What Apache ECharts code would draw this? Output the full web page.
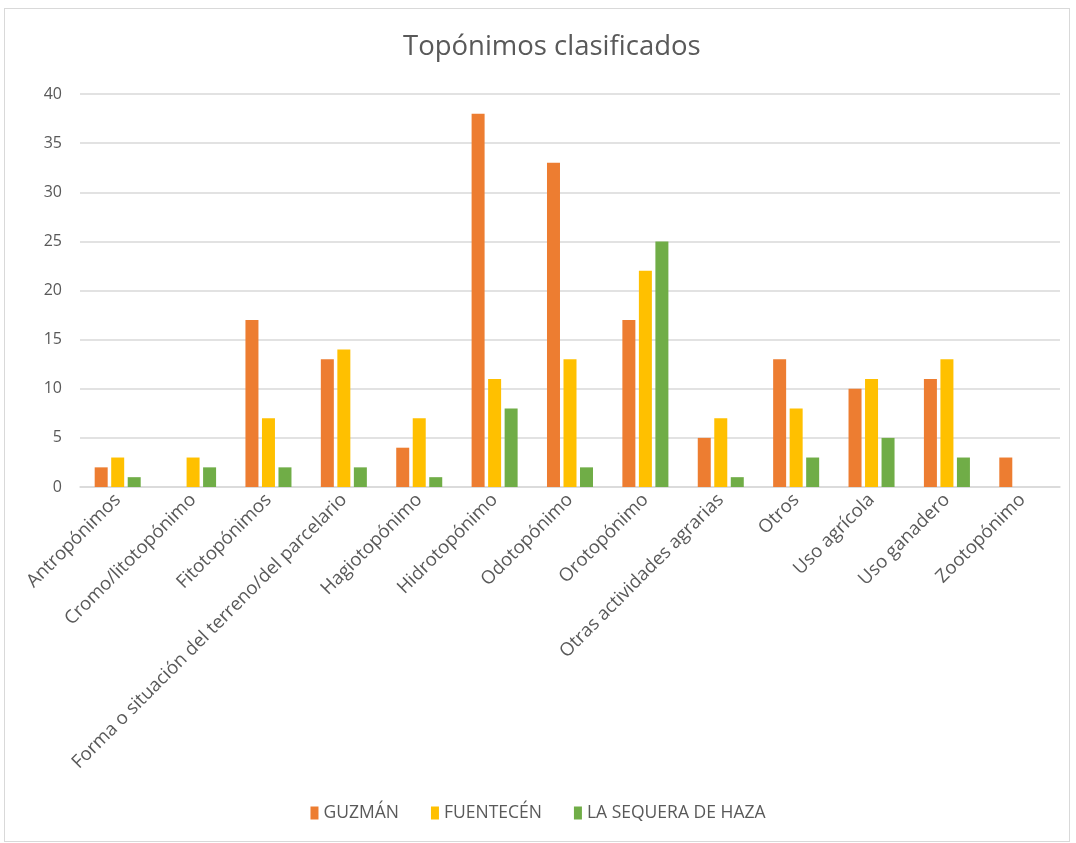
<!DOCTYPE html>
<html lang="es">
<head>
    <meta charset="UTF-8">
    <title>Topónimos clasificados</title>
    <script src="https://cdn.jsdelivr.net/npm/echarts@6.0.0/dist/echarts.min.js"></script>
    <style>
        html, body { margin: 0; padding: 0; background: #fff; }
        #frame { position: absolute; left: 4px; top: 8px; width: 1066px; height: 834px; border: 1px solid #d9d9d9; box-sizing: border-box; }
        #chart { position: absolute; left: 0; top: 0; width: 1076px; height: 843px; }
    </style>
</head>
<body>
<div id="frame"></div>
<div id="chart"></div>
<script>
    const categories = ['Antropónimos', 'Cromo/litotopónimo', 'Fitotopónimos',
        'Forma o situación del terreno/del parcelario', 'Hagiotopónimo', 'Hidrotopónimo',
        'Odotopónimo', 'Orotopónimo', 'Otras actividades agrarias', 'Otros',
        'Uso agrícola', 'Uso ganadero', 'Zootopónimo'];
    const guzman = [2, 0, 17, 13, 4, 38, 33, 17, 5, 13, 10, 11, 3];
    const fuentecen = [3, 3, 7, 14, 7, 11, 13, 22, 7, 8, 11, 13, 0];
    const sequera = [1, 2, 2, 2, 1, 8, 2, 25, 1, 3, 5, 3, 0];
    const yTicks = [0, 5, 10, 15, 20, 25, 30, 35, 40];

    const txt = '#595959';
    const font = '"Open Sans", "Noto Sans", sans-serif';

    function bar(name, data, color) {
        return {
            name, type: 'bar', data,
            barWidth: 13, barGap: '27%',
            itemStyle: {color}
        };
    }

    const chart = echarts.init(document.getElementById('chart'));
    chart.setOption({
        animation: false,
        textStyle: {fontFamily: font},
        title: {
            text: 'Topónimos clasificados', left: 398, top: 28,
            textStyle: {fontSize: 27.5, fontWeight: 'normal', color: txt, fontFamily: font}
        },
        grid: {left: 80, right: 16, top: 94, bottom: 356, containLabel: false},
        legend: {
            bottom: 16, left: 'center', itemWidth: 8, itemHeight: 13, itemGap: 32,
            icon: 'rect',
            textStyle: {fontSize: 17.5, color: txt, fontFamily: font},
            data: ['GUZMÁN', 'FUENTECÉN', 'LA SEQUERA DE HAZA']
        },
        xAxis: {
            type: 'category', data: categories,
            axisLine: {lineStyle: {color: '#d9d9d9', width: 1.5}},
            axisTick: {show: false},
            axisLabel: {rotate: 45, interval: 0, fontSize: 18.5, color: txt, margin: 10}
        },
        yAxis: {
            type: 'value', min: yTicks[0], max: yTicks[yTicks.length - 1], interval: 5,
            axisLine: {show: false}, axisTick: {show: false},
            axisLabel: {fontSize: 16, color: txt, margin: 18},
            splitLine: {lineStyle: {color: '#d9d9d9', width: 1.5}}
        },
        series: [
            bar('GUZMÁN', guzman, '#ED7D31'),
            bar('FUENTECÉN', fuentecen, '#FFC000'),
            bar('LA SEQUERA DE HAZA', sequera, '#70AD47')
        ]
    });
</script>
</body>
</html>
